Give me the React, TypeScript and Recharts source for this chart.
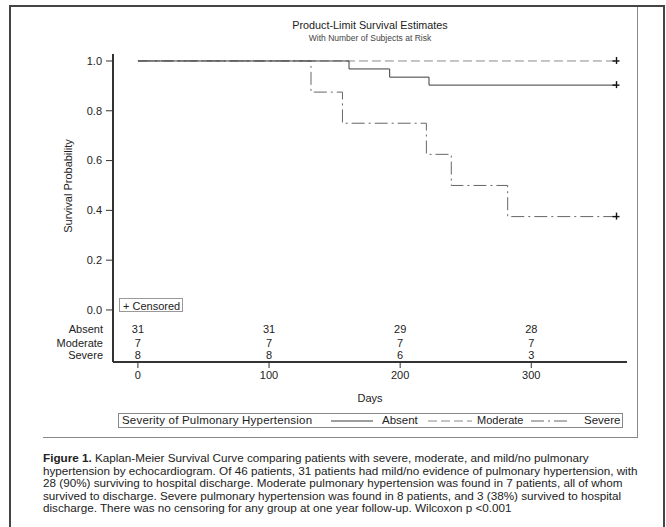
import { LineChart, Line, XAxis, YAxis, ReferenceDot, Label } from "recharts";

const DAY_TICKS = [0, 100, 200, 300];
const SURV_TICKS = [0, 0.2, 0.4, 0.6, 0.8, 1.0];

const GROUPS = ["Absent", "Moderate", "Severe"];

// Kaplan-Meier steps
const ABSENT_DAYS = [0, 161, 192, 222, 365];
const ABSENT_SURV = [1.0, 0.968, 0.935, 0.903, 0.903];
const MODERATE_DAYS = [0, 365];
const MODERATE_SURV = [1.0, 1.0];
const SEVERE_DAYS = [0, 132, 156, 220, 239, 282, 365];
const SEVERE_SURV = [1.0, 0.875, 0.75, 0.625, 0.5, 0.375, 0.375];
const CENSOR_DAY = 365;

// number at risk at 0/100/200/300 days
const AT_RISK_ABSENT = [31, 31, 29, 28];
const AT_RISK_MODERATE = [7, 7, 7, 7];
const AT_RISK_SEVERE = [8, 8, 6, 3];

// layout: where the at-risk rows sit below the 0.0 line (in axis units)
const RISK_ROW_POS = [-0.076, -0.133, -0.181];
const X_DOMAIN = [-19, 373];
const Y_DOMAIN = [-0.209, 1.028];

const FONT = "'Liberation Sans', Arial, sans-serif";
const INK = "#222";

const toSteps = (days: number[], surv: number[]) =>
  days.map((d, i) => ({ day: d, surv: surv[i], censored: d === CENSOR_DAY }));

const absent = toSteps(ABSENT_DAYS, ABSENT_SURV);
const moderate = toSteps(MODERATE_DAYS, MODERATE_SURV);
const severe = toSteps(SEVERE_DAYS, SEVERE_SURV);

const riskRows = [AT_RISK_ABSENT, AT_RISK_MODERATE, AT_RISK_SEVERE];

function CensorMark(props: any) {
  const { cx, cy, payload, index } = props;
  if (!payload || !payload.censored) return <g key={`n-${index}`} />;
  return (
    <g key={`c-${index}`}>
      <line x1={cx - 4} x2={cx + 3} y1={cy} y2={cy} stroke="#111" strokeWidth={1.4} />
      <line x1={cx} x2={cx} y1={cy - 4} y2={cy + 3} stroke="#111" strokeWidth={1.4} />
    </g>
  );
}

const STYLES = {
  Absent: { stroke: "#3c3c3c", dash: undefined as string | undefined },
  Moderate: { stroke: "#8a8a8a", dash: "9 4" },
  Severe: { stroke: "#666", dash: "13 4 2 4" },
};

function LegendSample({ dash, color, width }: { dash?: string; color: string; width: number }) {
  return (
    <svg width={width} height={4} style={{ display: "block" }}>
      <line x1={0} x2={width} y1={2} y2={2} stroke={color} strokeWidth={1} strokeDasharray={dash} />
    </svg>
  );
}

export default function App() {
  return (
    <div
      style={{
        position: "fixed",
        left: 0,
        top: 0,
        width: 666,
        height: 527,
        background: "#fff",
        fontFamily: FONT,
        color: INK,
        overflow: "hidden",
      }}
    >
      {/* outer figure frame */}
      <div
        style={{
          position: "absolute",
          left: 9,
          top: 5,
          width: 652,
          height: 540,
          border: "2px solid #444",
        }}
      />
      {/* chart image edge */}
      <div
        style={{
          position: "absolute",
          left: 43,
          top: 7,
          width: 594,
          height: 430,
          borderRight: "1px solid #888",
          borderBottom: "1px solid #888",
        }}
      />

      <div style={{ position: "absolute", left: 113, top: 19, width: 514, textAlign: "center", fontSize: 10.8, lineHeight: "13px" }}>
        Product-Limit Survival Estimates
      </div>
      <div style={{ position: "absolute", left: 113, top: 33, width: 514, textAlign: "center", fontSize: 8.5, lineHeight: "11px", color: "#444" }}>
        With Number of Subjects at Risk
      </div>

      <div style={{ position: "absolute", left: 0, top: 0 }}>
        <LineChart width={666} height={437} margin={{ top: 54, right: 39, bottom: 35, left: 63 }}>
          <XAxis
            type="number"
            dataKey="day"
            domain={X_DOMAIN}
            ticks={DAY_TICKS}
            allowDataOverflow
            height={40}
            axisLine={{ stroke: "#333", strokeWidth: 2 }}
            tickLine={{ stroke: "#333" }}
            tickSize={6}
            tickMargin={3}
            tick={{ fontSize: 11, fill: INK }}
          >
            <Label value="Days" position="insideBottom" offset={0} fontSize={11} fill={INK} />
          </XAxis>
          <YAxis
            type="number"
            domain={Y_DOMAIN}
            ticks={SURV_TICKS}
            allowDataOverflow
            width={50}
            axisLine={{ stroke: "#333", strokeWidth: 2 }}
            tickLine={{ stroke: "#333" }}
            tickSize={7}
            tickMargin={4}
            tick={{ fontSize: 11, fill: INK }}
            tickFormatter={(v: number) => v.toFixed(1)}
            label={{
              content: () => (
                <text x={72} y={186} transform="rotate(-90 72 186)" textAnchor="middle" fontSize={11} fill={INK}>
                  Survival Probability
                </text>
              ),
            }}
          />
          <YAxis
            yAxisId="frame"
            orientation="right"
            type="number"
            domain={Y_DOMAIN}
            allowDataOverflow
            width={0}
            tick={false}
            tickLine={false}
            axisLine={{ stroke: "#666", strokeWidth: 1 }}
          />

          <Line
            data={moderate}
            dataKey="surv"
            name="Moderate"
            type="stepAfter"
            stroke={STYLES.Moderate.stroke}
            strokeDasharray={STYLES.Moderate.dash}
            strokeWidth={1}
            dot={CensorMark}
            activeDot={false}
            isAnimationActive={false}
          />
          <Line
            data={severe}
            dataKey="surv"
            name="Severe"
            type="stepAfter"
            stroke={STYLES.Severe.stroke}
            strokeDasharray={STYLES.Severe.dash}
            strokeWidth={1}
            dot={CensorMark}
            activeDot={false}
            isAnimationActive={false}
          />
          <Line
            data={absent}
            dataKey="surv"
            name="Absent"
            type="stepAfter"
            stroke={STYLES.Absent.stroke}
            strokeWidth={1}
            dot={CensorMark}
            activeDot={false}
            isAnimationActive={false}
          />

          {GROUPS.map((g, r) => (
            <ReferenceDot
              key={`row-${g}`}
              x={X_DOMAIN[0]}
              y={RISK_ROW_POS[r]}
              r={0}
              fill="none"
              stroke="none"
              ifOverflow="visible"
              label={{ value: g, position: "left", offset: 10, fontSize: 11, fill: INK }}
            />
          ))}
          {riskRows.map((counts, r) =>
            counts.map((n, i) => (
              <ReferenceDot
                key={`risk-${r}-${i}`}
                x={DAY_TICKS[i]}
                y={RISK_ROW_POS[r]}
                r={0}
                fill="none"
                stroke="none"
                ifOverflow="visible"
                label={{ value: String(n), position: "center", fontSize: 11, fill: INK }}
              />
            ))
          )}
        </LineChart>
      </div>

      {/* censored key inside the plot */}
      <div
        style={{
          position: "absolute",
          left: 119,
          top: 298,
          width: 64,
          height: 14,
          border: "1px solid #999",
          fontSize: 11,
          lineHeight: "14px",
          paddingLeft: 3,
          boxSizing: "border-box",
        }}
      >
        + Censored
      </div>

      {/* group legend */}
      <div
        style={{
          position: "absolute",
          left: 118,
          top: 413,
          width: 505,
          height: 15,
          border: "1px solid #888",
          boxSizing: "border-box",
          fontSize: 11.5,
          lineHeight: "13px",
        }}
      >
        <span style={{ position: "absolute", left: 3, top: 0, letterSpacing: 0.2 }}>Severity of Pulmonary Hypertension</span>
        <span style={{ position: "absolute", left: 212, top: 5 }}>
          <LegendSample color={STYLES.Absent.stroke} width={42} />
        </span>
        <span style={{ position: "absolute", left: 263, top: 0 }}>Absent</span>
        <span style={{ position: "absolute", left: 309, top: 5 }}>
          <LegendSample color={STYLES.Moderate.stroke} dash={STYLES.Moderate.dash} width={44} />
        </span>
        <span style={{ position: "absolute", left: 358, top: 0, fontSize: 11 }}>Moderate</span>
        <span style={{ position: "absolute", left: 412, top: 5 }}>
          <LegendSample color={STYLES.Severe.stroke} dash={STYLES.Severe.dash} width={38} />
        </span>
        <span style={{ position: "absolute", left: 465, top: 0 }}>Severe</span>
      </div>

      {/* figure caption */}
      <div
        style={{
          position: "absolute",
          left: 43,
          top: 452,
          width: 615,
          fontSize: 11.7,
          lineHeight: "12.5px",
          whiteSpace: "nowrap",
        }}
      >
        <b>Figure 1.</b> Kaplan-Meier Survival Curve comparing patients with severe, moderate, and mild/no pulmonary
        <br />
        hypertension by echocardiogram. Of 46 patients, 31 patients had mild/no evidence of pulmonary hypertension, with
        <br />
        28 (90%) surviving to hospital discharge. Moderate pulmonary hypertension was found in 7 patients, all of whom
        <br />
        survived to discharge. Severe pulmonary hypertension was found in 8 patients, and 3 (38%) survived to hospital
        <br />
        discharge. There was no censoring for any group at one year follow-up. Wilcoxon p &lt;0.001
      </div>
    </div>
  );
}
